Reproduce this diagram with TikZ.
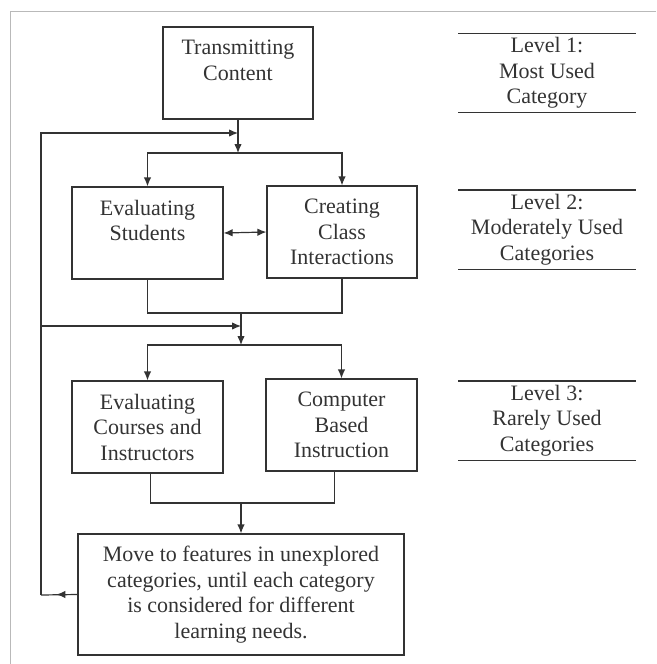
\documentclass[tikz,border=0pt]{standalone}
\usepackage{fontspec}
\setmainfont{Liberation Serif}
\usetikzlibrary{arrows.meta,positioning,calc}

\tikzset{
  box/.style={draw, minimum width=150pt, minimum height=92pt, inner sep=0pt, align=center},
  lvl/.style={minimum width=176pt, minimum height=78pt, inner sep=0pt, align=center},
  arr/.style={-{Latex[length=9pt,width=7.5pt]}},
  twoarr/.style={{Latex[length=9pt,width=7.5pt]}-{Latex[length=9pt,width=7.5pt]}},
}

\begin{document}
\begin{tikzpicture}[x=1pt, y=-1pt, line width=1.2pt, color=black!80,
    font=\fontsize{22}{25.5}\selectfont]
    \useasboundingbox (0,0) rectangle (656,664);

    % outer frame
    \draw[gray!55, line width=0.9pt] (656,11) -- (10,11) -- (10,664);

    % level 1
    \node[box] (tc) at (238,73) {Transmitting\\Content\\\phantom{X}};

    % level 2
    \node[box, minimum width=151pt] (es) at (147.5,233) {Evaluating\\Students\\\phantom{X}};
    \node[box] (cc) at (342,232) {Creating\\Class\\Interactions};

    % level 3
    \node[box, minimum width=151pt] (ec) at (147.5,427) {Evaluating\\Courses and\\Instructors};
    \node[box, minimum width=151pt] (cb) at (341.5,425) {Computer\\Based\\Instruction};

    % last step
    \node[box, minimum width=326pt, minimum height=121pt] (mv) at (241,594.5)
        {Move to features in unexplored\\categories, until each category\\is considered for different\\learning needs.};

    % level labels on the right
    \node[lvl] (l1) at (547,73) {Level 1:\\Most Used\\Category};
    \node[lvl] (l2) at (547,229.5) {Level 2:\\Moderately Used\\Categories};
    \node[lvl] (l3) at (547,420.5) {Level 3:\\Rarely Used\\Categories};
    \foreach \n in {l1,l2,l3} {
        \draw (\n.north west) -- (\n.north east);
        \draw (\n.south west) -- (\n.south east);
    }

    % junction points
    \coordinate (j1) at (238,153);
    \coordinate (j2) at (241,313);
    \coordinate (j3) at (241,345);
    \coordinate (j4) at (241,503);
    \coordinate (f1) at (238,133);
    \coordinate (f2) at (241,326);
    \coordinate (fb) at (41,595);

    % level 1 to level 2
    \draw[arr] (tc.south) -- (j1);
    \draw[arr] (j1) -| (es.north);
    \draw[arr] (j1) -| (cc.north);
    \draw[twoarr] (es.east) -- (cc.west);

    % level 2 to level 3
    \draw (es.south) |- (j2) -| (cc.south);
    \draw[arr] (j2) -- (j3);
    \draw[arr] (j3) -| (ec.north);
    \draw[arr] (j3) -| (cb.north);

    % level 3 to last step
    \draw ([xshift=3pt]ec.south) |- (j4) -| ([xshift=-7pt]cb.south);
    \draw[arr] (j4) -- (mv.north);

    % feedback loop
    \draw (mv.west) -- (fb);
    \draw[arr] (mv.west) -- ++(-21,0);
    \draw[arr] (fb) |- (f1);
    \draw[arr] (fb) |- (f2);
\end{tikzpicture}
\end{document}
